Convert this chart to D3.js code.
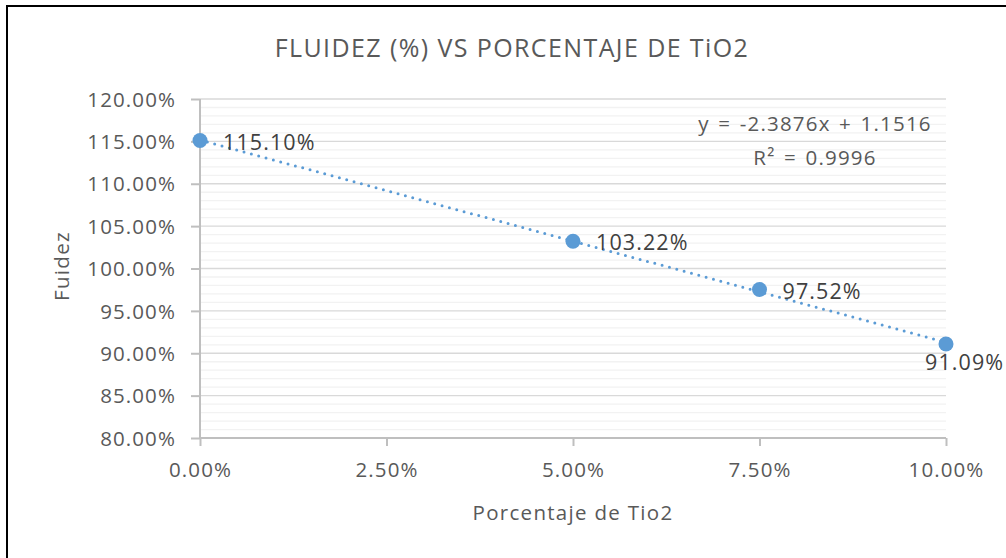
<!DOCTYPE html>
<html><head><meta charset="utf-8">
<script src="https://cdn.jsdelivr.net/npm/d3@7"></script>
<style>body{margin:0;background:#fff}svg{display:block}text{font-family:"Open Sans",sans-serif}</style>
</head><body>
<svg id="c" width="1006" height="558"></svg>
<script>
const xValues = [0, 0.05, 0.075, 0.10];
const yValues = [1.1510, 1.0322, 0.9752, 0.9109];
const dataLabels = ["115.10%", "103.22%", "97.52%", "91.09%"];
const xTicks = [0, 0.025, 0.05, 0.075, 0.10];
const yTicks = [0.80, 0.85, 0.90, 0.95, 1.00, 1.05, 1.10, 1.15, 1.20];
const trendSlope = -2.3876, trendIntercept = 1.1516;
const equationLines = ["y = -2.3876x + 1.1516", "R² = 0.9996"];
const titleText = "FLUIDEZ (%) VS PORCENTAJE DE TiO2";
const xTitle = "Porcentaje de Tio2";
const yTitle = "Fuidez";

const svg = d3.select("#c");
const blue = "#5B9BD5", textCol = "#595959", axisCol = "#BFBFBF";
svg.append("path").attr("d","M7,558 L7,6 L1006,6").attr("fill","none").attr("stroke","#000").attr("stroke-width",2);

const x = d3.scaleLinear().domain([0,0.10]).range([200,946]);
const y = d3.scaleLinear().domain([0.80,1.20]).range([438,99]);

const minor = d3.range(81,120).filter(v=>v%5!==0).map(v=>v/100);
svg.append("g").selectAll("line").data(minor).join("line")
 .attr("x1",x(0)).attr("x2",x(0.10)).attr("y1",d=>y(d)).attr("y2",d=>y(d))
 .attr("stroke","#F2F2F2").attr("stroke-width",1.3);
svg.append("g").selectAll("line").data(yTicks.slice(1)).join("line")
 .attr("x1",x(0)).attr("x2",x(0.10)).attr("y1",d=>y(d)).attr("y2",d=>y(d))
 .attr("stroke","#D9D9D9").attr("stroke-width",1.3);

const fmt = d3.format(".2%");
const tickStyle = a => a.selectAll(".tick text").attr("fill",textCol)
  .style("font-size","20.5px").style("letter-spacing","1.1px").style("font-family","'Open Sans',sans-serif");
const yAxis = svg.append("g").attr("transform",`translate(${x(0)},0)`)
 .call(d3.axisLeft(y).tickValues(yTicks).tickFormat(fmt).tickSize(9).tickPadding(15));
const xAxis = svg.append("g").attr("transform",`translate(0,${y(0.80)})`)
 .call(d3.axisBottom(x).tickValues(xTicks).tickFormat(fmt).tickSize(8).tickPadding(16));
[yAxis,xAxis].forEach(a=>{
  a.select(".domain").attr("stroke",axisCol).attr("stroke-width",2);
  a.selectAll(".tick line").attr("stroke",axisCol).attr("stroke-width",2);
  tickStyle(a);
});
xAxis.select(".domain").attr("d",`M${x(0)},0H${x(0.10)}`);
yAxis.select(".domain").attr("d",`M0,${y(1.20)}V${y(0.80)}`);
yAxis.selectAll(".tick text").attr("dy","0.35em");

svg.append("line").attr("x1",x(0)).attr("x2",x(0.10))
 .attr("y1",y(trendIntercept)).attr("y2",y(trendSlope*0.10+trendIntercept))
 .attr("stroke",blue).attr("stroke-width",3).attr("stroke-dasharray","0 7.6").attr("stroke-linecap","round");

const pts = xValues.map((v,i)=>({x:v,y:yValues[i],l:dataLabels[i]}));
svg.append("g").selectAll("circle").data(pts).join("circle")
 .attr("cx",d=>x(d.x)).attr("cy",d=>y(d.y)).attr("r",7.5).attr("fill",blue);

svg.append("g").selectAll("text").data(pts).join("text")
 .attr("x",(d,i)=> i===3 ? x(d.x)-21 : x(d.x)+23)
 .attr("y",(d,i)=> i===3 ? y(d.y)+26 : y(d.y)+9)
 .attr("fill","#404040").style("font-size","21.5px").style("letter-spacing","1.1px").text(d=>d.l);

svg.append("text").attr("x",815).attr("y",131).attr("text-anchor","middle").attr("fill",textCol)
 .style("font-size","20.5px").style("letter-spacing","1.2px").style("word-spacing","2px").text(equationLines[0]);
svg.append("text").attr("x",815).attr("y",165).attr("text-anchor","middle").attr("fill",textCol)
 .style("font-size","20.5px").style("letter-spacing","1.2px").style("word-spacing","2px").text(equationLines[1]);

svg.append("text").attr("x",512).attr("y",57).attr("text-anchor","middle").attr("fill",textCol)
 .style("font-size","25px").style("letter-spacing","1.4px").text(titleText);
svg.append("text").attr("x",573).attr("y",520).attr("text-anchor","middle").attr("fill",textCol)
 .style("font-size","20.5px").style("letter-spacing","1.3px").text(xTitle);
svg.append("text").attr("transform","translate(69,266) rotate(-90)").attr("text-anchor","middle").attr("fill",textCol)
 .style("font-size","20.5px").style("letter-spacing","1.3px").text(yTitle);
</script>
</body></html>
